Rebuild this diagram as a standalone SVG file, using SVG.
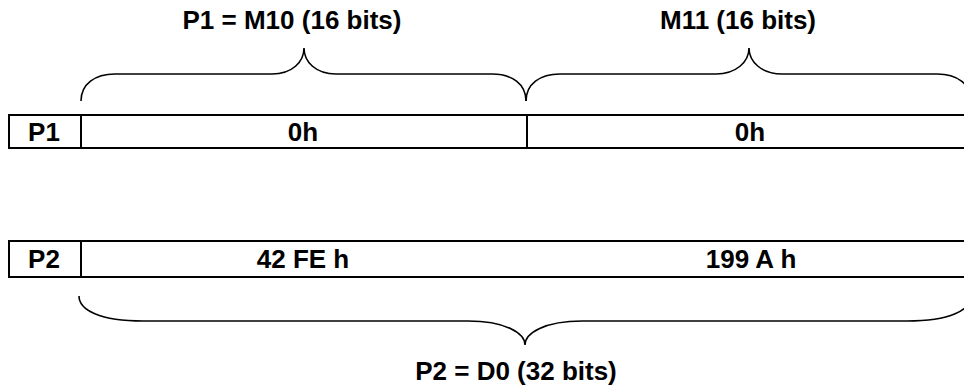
<svg xmlns="http://www.w3.org/2000/svg" width="964" height="385" viewBox="0 0 964 385">
<style>
.t{font-family:"Liberation Sans",Arial,sans-serif;font-weight:bold;font-size:26px;fill:#000;text-anchor:middle}
.box{fill:#fff;stroke:#000;stroke-width:2}
.br{fill:none;stroke:#000;stroke-width:1.6}
</style>
<rect width="964" height="385" fill="#fff"/>
<g id="row-p1">
<rect class="box" x="9" y="115" width="975" height="33"/>
<line x1="81" y1="115" x2="81" y2="148" stroke="#000" stroke-width="2"/>
<line x1="527" y1="115" x2="527" y2="148" stroke="#000" stroke-width="2"/>
<text class="t" x="44" y="141">P1</text>
<text class="t" x="303" y="141">0h</text>
<text class="t" x="750" y="141">0h</text>
</g>
<g id="row-p2">
<rect class="box" x="9" y="241" width="975" height="36"/>
<line x1="81" y1="241" x2="81" y2="277" stroke="#000" stroke-width="2"/>
<text class="t" x="44" y="268">P2</text>
<text class="t" x="303" y="268">42 FE h</text>
<text class="t" x="751" y="268">199 A h</text>
</g>
<g id="brace-m10">
<path class="br" d="M81,101 C81,84 95,74 115,74 L272,74 C292,74 304,62 304,48 C304,62 316,74 336,74 L492,74 C512,74 526,84 526,101"/>
<text class="t" x="292" y="29">P1 = M10 (16 bits)</text>
</g>
<g id="brace-m11">
<path class="br" d="M526,101 C526,84 540,74 560,74 L716,74 C736,74 749,62 749,48 C749,62 762,74 782,74 L937,74 C957,74 971,84 971,101"/>
<text class="t" x="738" y="29">M11 (16 bits)</text>
</g>
<g id="brace-d0">
<path class="br" d="M79,296 C79,310 100,321 143,321 L468,321 C505,321 525,333 525,345 C525,333 545,321 582,321 L907,321 C950,321 971,310 971,296"/>
<text class="t" x="516" y="380">P2 = D0 (32 bits)</text>
</g>
<g id="connectors"></g>
</svg>
